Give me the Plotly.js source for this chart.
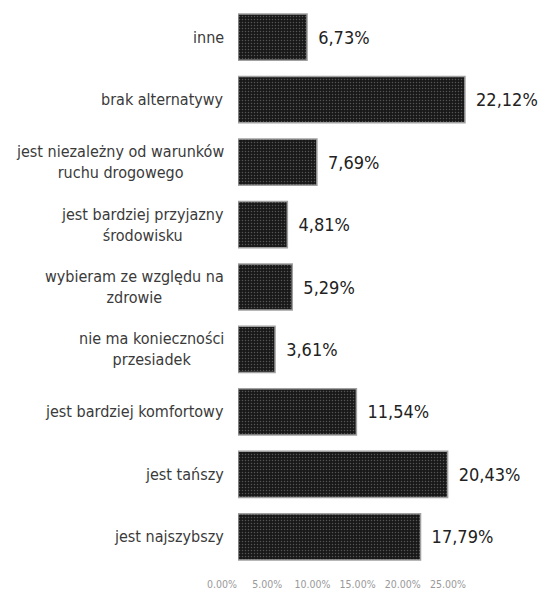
<!DOCTYPE html>
<html><head><meta charset="utf-8">
<script src="https://cdn.plot.ly/plotly-3.0.1.min.js"></script>
<style>html,body{margin:0;padding:0;background:#fff;}</style>
</head><body><div id="chart" style="width:539px;height:594px;"></div>
<script>
var categories = ["inne","brak alternatywy","jest niezależny od warunków<br>ruchu drogowego","jest bardziej przyjazny<br>środowisku","wybieram ze względu na<br>zdrowie","nie ma konieczności<br>przesiadek","jest bardziej komfortowy","jest tańszy","jest najszybszy"];
var values = [6.73,22.12,7.69,4.81,5.29,3.61,11.54,20.43,17.79];
var valueLabels = ["6,73%","22,12%","7,69%","4,81%","5,29%","3,61%","11,54%","20,43%","17,79%"];
var tickVals = [0,5,10,15,20,25];
var tickLabels = ["0.00%","5.00%","10.00%","15.00%","20.00%","25.00%"];

var W = 539, L = 200, R = 10;
var plotW = W - L - R;
var barStart = 238, pxPerPct = 10.26;
var tickZero = 222, tickPxPerPct = 9.04;
var FONT = "DejaVu Sans Condensed, Liberation Sans Narrow, sans-serif";

var traces = [{
  type: "bar", orientation: "h",
  y: categories, x: values,
  text: valueLabels.map(function(t){ return "\u2002" + t; }),
  textposition: "outside", cliponaxis: false,
  textfont: {family: FONT, size: 18, color: "#222"},
  marker: {color: "#1a1a1a", line: {color: "#a0a0a0", width: 1.5},
           pattern: {shape: ".", fgcolor: "#555", bgcolor: "#181818", size: 3, solidity: 0.2}},
  width: 0.74, hoverinfo: "skip", xaxis: "x", yaxis: "y"
},{
  type: "scatter", mode: "markers", x: [0], y: [categories[0]],
  marker: {opacity: 0}, xaxis: "x2", yaxis: "y", hoverinfo: "skip", showlegend: false
}];

var annotations = categories.map(function(c){
  return {xref: "paper", yref: "y", x: (226 - L) / plotW, y: c, xanchor: "right", yanchor: "middle",
          align: "center", text: c, showarrow: false,
          font: {family: FONT, size: 16, color: "#3a3a3a"}};
});

var layout = {
  width: 539, height: 594,
  margin: {l: L, r: R, t: 6, b: 26},
  paper_bgcolor: "#fff", plot_bgcolor: "rgba(0,0,0,0)",
  showlegend: false,
  xaxis: {domain: [(barStart - L) / plotW, 1], range: [0, (W - R - barStart) / pxPerPct],
          showgrid: false, zeroline: false, showline: false, showticklabels: false, ticks: ""},
  xaxis2: {domain: [0, 1], anchor: "free", position: 0,
           range: [-(tickZero - L) / tickPxPerPct, (W - R - tickZero) / tickPxPerPct],
           tickvals: tickVals, ticktext: tickLabels, showgrid: false, zeroline: false, showline: false,
           ticks: "", ticklabelstandoff: 8, tickfont: {family: FONT, size: 10.5, color: "#999"}},
  yaxis: {showticklabels: false, showgrid: false, zeroline: false, showline: false, ticks: "",
          range: [8.5, -0.5]},
  annotations: annotations
};
Plotly.newPlot("chart", traces, layout, {displayModeBar: false, staticPlot: true});
</script></body></html>
